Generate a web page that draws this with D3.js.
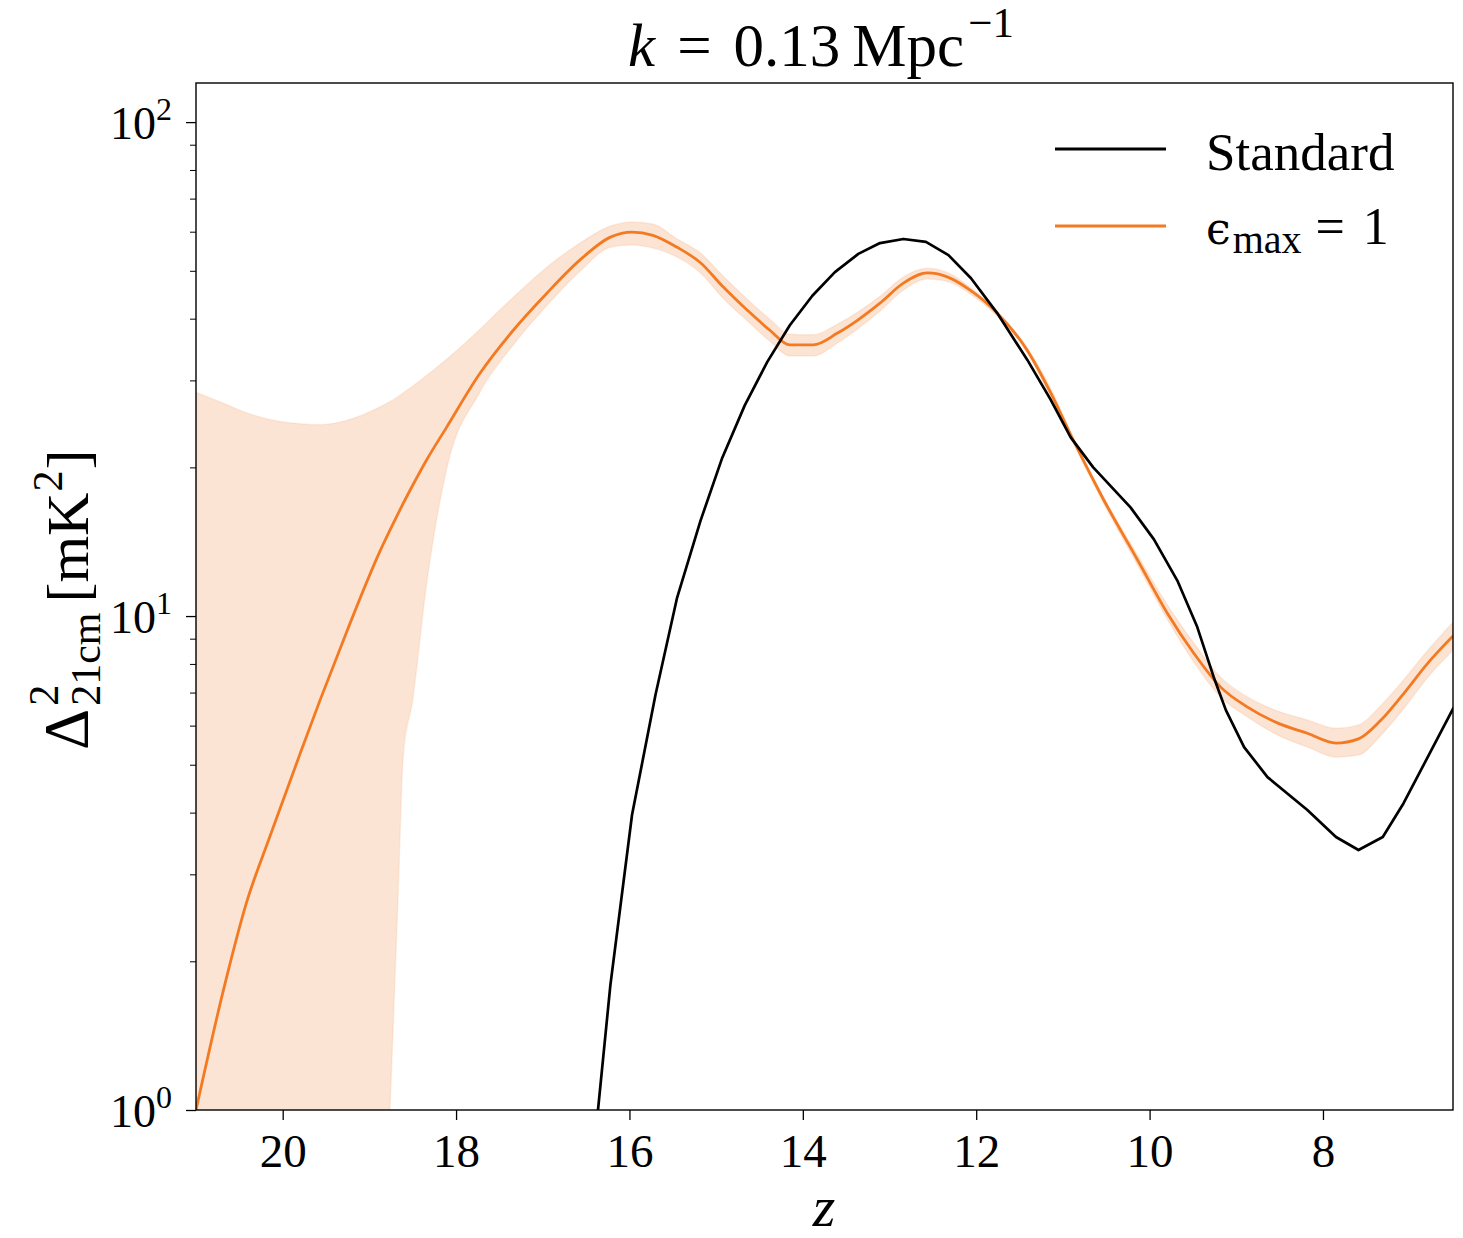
<!DOCTYPE html>
<html>
<head>
<meta charset="utf-8">
<script src="https://cdn.jsdelivr.net/npm/d3@7"></script>
<style>
  body { margin: 0; background: #fff; }
  svg { display: block; }
  text { font-family: "Liberation Serif", "DejaVu Serif", serif; fill: #000; }
</style>
</head>
<body>
<svg id="chart" width="1463" height="1238"></svg>
<script>
// ---------------- data ----------------
const zStandard = [16.48, 16.22, 15.97, 15.70, 15.45, 15.18, 14.93, 14.67, 14.41, 14.15,
  13.89, 13.63, 13.36, 13.11, 12.84, 12.58, 12.32, 12.06, 11.76, 11.41,
  11.14, 10.91, 10.65, 10.22, 9.95, 9.68, 9.45, 9.26, 9.12, 8.91,
  8.64, 8.18, 7.85, 7.59, 7.31, 7.07, 6.49];
const standardValues = [0.62, 1.79, 3.96, 6.92, 10.9, 15.6, 20.9, 26.7, 32.7, 38.8,
  44.5, 49.7, 54.1, 56.9, 58.0, 57.2, 53.8, 48.3, 41.1, 33.0,
  27.4, 23.0, 20.0, 16.6, 14.3, 11.8, 9.50, 7.52, 6.45, 5.43,
  4.72, 4.05, 3.57, 3.36, 3.57, 4.18, 6.54];

const zEps = [21.0, 20.69, 20.42, 20.15, 19.80, 19.57, 19.26, 18.88, 18.67, 18.61,
  18.50, 18.34, 18.11, 17.73, 17.34, 16.95, 16.57, 16.22, 15.97, 15.73,
  15.45, 15.18, 14.92, 14.64, 14.38, 14.15, 13.88, 13.60, 13.37, 13.11,
  12.84, 12.56, 12.32, 12.07, 11.76, 11.41, 11.14, 10.88, 10.53, 10.14,
  9.79, 9.49, 9.18, 8.87, 8.52, 8.18, 7.85, 7.59, 7.33, 7.10,
  6.79, 6.50];
const epsMean = [1.00, 1.73, 2.62, 3.57, 5.26, 6.75, 9.31, 13.5, 16.1, 16.9,
  18.4, 20.7, 24.1, 30.9, 37.9, 45.1, 52.6, 58.5, 59.9, 59.0,
  55.8, 51.9, 46.4, 41.6, 37.9, 35.4, 35.4, 37.4, 39.7, 43.0,
  47.2, 49.5, 48.5, 45.7, 41.1, 34.5, 28.3, 22.7, 17.2, 13.0,
  10.1, 8.41, 7.18, 6.54, 6.07, 5.79, 5.53, 5.64, 6.16, 6.86,
  8.03, 9.11];
const epsHigh = [28.4, 27.0, 25.8, 25.0, 24.5, 24.4, 24.9, 26.5, 27.8, 28.3,
  29.2, 30.7, 33.1, 38.0, 44.2, 50.9, 56.9, 61.6, 62.8, 62.2,
  58.0, 54.3, 48.8, 43.8, 39.9, 37.2, 37.1, 39.0, 41.2, 44.4,
  48.6, 50.6, 49.5, 46.3, 41.4, 34.9, 28.9, 22.9, 17.4, 13.3,
  10.5, 8.82, 7.52, 6.86, 6.42, 6.16, 5.93, 6.02, 6.60, 7.32,
  8.53, 9.72];
const epsLow = [0.3, 0.3, 0.3, 0.3, 0.3, 0.3, 0.3, 0.46, 2.66, 5.18,
  6.76, 11.6, 19.8, 28.3, 35.4, 42.6, 49.9, 55.8, 56.4, 55.6,
  53.3, 49.5, 44.0, 39.6, 36.0, 33.6, 33.6, 35.7, 38.1, 41.4,
  45.7, 48.1, 47.5, 44.9, 40.5, 34.1, 27.7, 22.4, 16.9, 12.7,
  9.81, 8.07, 6.86, 6.25, 5.74, 5.43, 5.18, 5.23, 5.74, 6.39,
  7.52, 8.53];

const xTickValues = [20, 18, 16, 14, 12, 10, 8];
const yMajorTicks = [1, 10, 100];
const yMajorExponents = ["0", "1", "2"];
const yMinorTicks = [2, 3, 4, 5, 6, 7, 8, 9, 20, 30, 40, 50, 60, 70, 80, 90];
const legendLabels = ["Standard", "max"];

// ---------------- layout ----------------
const M = { left: 196, right: 1453, top: 83, bottom: 1110 };
const colStd = "#000000";
const colEps = "#f47a22";

const svg = d3.select("#chart");
const x = d3.scaleLinear().domain([21.0, 6.5]).range([M.left, M.right]);
const y = d3.scaleLog().domain([1, 120]).range([M.bottom, M.top]);

svg.append("defs").append("clipPath").attr("id", "plotclip")
  .append("rect").attr("x", M.left).attr("y", M.top)
  .attr("width", M.right - M.left).attr("height", M.bottom - M.top);

const plot = svg.append("g").attr("clip-path", "url(#plotclip)");

const epsRows = zEps.map((z, i) => ({ z, m: epsMean[i], lo: epsLow[i], hi: epsHigh[i] }));
const stdRows = zStandard.map((z, i) => ({ z, v: standardValues[i] }));

// band
plot.append("path").datum(epsRows)
  .attr("d", d3.area().curve(d3.curveMonotoneX).x(d => x(d.z)).y0(d => y(d.lo)).y1(d => y(d.hi)))
  .attr("fill", "#f2853a").attr("fill-opacity", 0.22)
  .attr("stroke", "#f2853a").attr("stroke-opacity", 0.12).attr("stroke-width", 1.5);

// eps line
plot.append("path").datum(epsRows)
  .attr("d", d3.line().curve(d3.curveMonotoneX).x(d => x(d.z)).y(d => y(d.m)))
  .attr("fill", "none").attr("stroke", colEps).attr("stroke-width", 2.8)
  .attr("stroke-linejoin", "round");

// standard line
plot.append("path").datum(stdRows)
  .attr("d", d3.line().x(d => x(d.z)).y(d => y(d.v)))
  .attr("fill", "none").attr("stroke", colStd).attr("stroke-width", 2.7)
  .attr("stroke-linejoin", "round");

// ---------------- axes ----------------
const xAxis = svg.append("g").attr("transform", `translate(0,${M.bottom})`)
  .call(d3.axisBottom(x).tickValues(xTickValues).tickSize(10).tickPadding(14)
    .tickFormat(d3.format("d")));
xAxis.select(".domain").remove();
xAxis.selectAll(".tick line").attr("stroke", "#000").attr("stroke-width", 1.3);
xAxis.selectAll(".tick text").attr("font-size", 47).attr("font-family", "Liberation Serif");

const yAxis = svg.append("g").attr("transform", `translate(${M.left},0)`)
  .call(d3.axisLeft(y).tickValues(yMajorTicks).tickSize(10).tickFormat(() => ""));
yAxis.select(".domain").remove();
yAxis.selectAll(".tick line").attr("stroke", "#000").attr("stroke-width", 1.3);

const yMinorAxis = svg.append("g").attr("transform", `translate(${M.left},0)`)
  .call(d3.axisLeft(y).tickValues(yMinorTicks).tickSize(6).tickFormat(() => ""));
yMinorAxis.select(".domain").remove();
yMinorAxis.selectAll(".tick line").attr("stroke", "#000").attr("stroke-width", 1.0);

// y tick labels 10^n
yMajorTicks.forEach((v, i) => {
  const t = svg.append("text")
    .attr("x", 172).attr("y", y(v) + 17)
    .attr("text-anchor", "end").attr("font-size", 46);
  t.append("tspan").text("10");
  t.append("tspan").attr("font-size", 32).attr("dy", -19).text(yMajorExponents[i]);
});

// frame
svg.append("rect").attr("x", M.left).attr("y", M.top)
  .attr("width", M.right - M.left).attr("height", M.bottom - M.top)
  .attr("fill", "none").attr("stroke", "#000").attr("stroke-width", 1.4);

// ---------------- title ----------------
const title = svg.append("text").attr("x", 821).attr("y", 66)
  .attr("text-anchor", "middle").attr("font-size", 61);
title.append("tspan").attr("font-style", "italic").text("k");
title.append("tspan").attr("dx", 22).text("=");
title.append("tspan").attr("dx", 22).text("0.13");
title.append("tspan").attr("dx", 12).text("Mpc");
title.append("tspan").attr("font-size", 43).attr("dy", -29).attr("dx", 4).text("−1");

// x label
svg.append("text").attr("x", 824).attr("y", 1226)
  .attr("text-anchor", "middle").attr("font-size", 58).attr("font-style", "italic").text("z");

// y label (rotated, chained pieces)
const yl = svg.append("g").attr("transform", "translate(88,750) rotate(-90)");
let u = 0;
const delta = yl.append("text").attr("x", u).attr("y", 0).attr("font-size", 64).text("Δ");
u += delta.node().getComputedTextLength() + 3;
const sup1 = yl.append("text").attr("x", u).attr("y", -30).attr("font-size", 42).text("2");
const sub1 = yl.append("text").attr("x", u).attr("y", 12).attr("font-size", 42).text("21cm");
u += Math.max(sup1.node().getComputedTextLength(), sub1.node().getComputedTextLength()) + 10;
const br = yl.append("text").attr("x", u).attr("y", 0).attr("font-size", 60).text("[mK");
u += br.node().getComputedTextLength() + 1;
const sup2 = yl.append("text").attr("x", u).attr("y", -26).attr("font-size", 42).text("2");
u += sup2.node().getComputedTextLength() + 1;
yl.append("text").attr("x", u).attr("y", 0).attr("font-size", 60).text("]");

// ---------------- legend ----------------
const lg = svg.append("g");
lg.append("line").attr("x1", 1055).attr("x2", 1166).attr("y1", 149).attr("y2", 149)
  .attr("stroke", colStd).attr("stroke-width", 3);
lg.append("text").attr("x", 1206).attr("y", 170).attr("font-size", 53).text(legendLabels[0]);
lg.append("line").attr("x1", 1055).attr("x2", 1166).attr("y1", 226).attr("y2", 226)
  .attr("stroke", colEps).attr("stroke-width", 3);
const le = lg.append("text").attr("x", 1206).attr("y", 244).attr("font-size", 52);
le.append("tspan").attr("font-family", "DejaVu Serif").attr("font-size", 44).text("ϵ");
le.append("tspan").attr("font-size", 40).attr("dy", 9).attr("dx", 2).text(legendLabels[1]);
le.append("tspan").attr("dy", -9).attr("dx", 14).text("=");
le.append("tspan").attr("dx", 18).text("1");
</script>
</body>
</html>
